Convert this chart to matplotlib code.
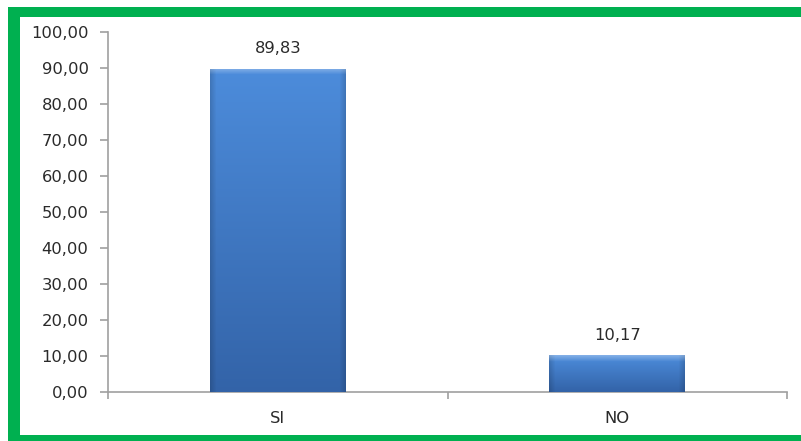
# Bar chart of SI / NO percentages with bevelled blue bars inside a green frame
import matplotlib.pyplot as plt
import matplotlib.patches as mpatches
import numpy as np

categories = ['SI', 'NO']
values = [89.83, 10.17]
value_labels = ['89,83', '10,17']
yticks = [0, 10, 20, 30, 40, 50, 60, 70, 80, 90, 100]

W, H = 801, 441
fig = plt.figure(figsize=(W / 100, H / 100), dpi=100)
fig.patch.set_facecolor('white')

# green frame (left, top and bottom strips)
green = '#00b050'
for x0, y0, w, h in [(8, 0, 12, 434), (8, 424, 793, 10), (8, 0, 793, 6)]:
    fig.patches.append(mpatches.Rectangle((x0 / W, y0 / H), w / W, h / H,
                                          transform=fig.transFigure,
                                          facecolor=green, edgecolor='none'))

ax = fig.add_axes([108 / W, (H - 392) / H, (787 - 108) / W, 360 / H])
ax.set_facecolor('none')

x = np.arange(len(categories))
bars = ax.bar(x, values, width=0.40, color='#3f78c4', edgecolor='none', zorder=2)

ax.set_xlim(-0.5, len(categories) - 0.5)
ax.set_ylim(0, 100)
ax.set_yticks(yticks)
ax.set_yticklabels([f'{v:.2f}'.replace('.', ',') for v in yticks])
ax.set_xticks(x)
ax.set_xticklabels(categories)
ax.set_xticks(np.arange(len(categories) + 1) - 0.5, minor=True)

for s in ['top', 'right']:
    ax.spines[s].set_visible(False)
for s in ['left', 'bottom']:
    ax.spines[s].set_color('#a0a0a0')
    ax.spines[s].set_linewidth(1.2)

txt = '#2a2a2a'
fs = 11.8
ax.tick_params(axis='y', direction='out', length=6, width=1.2, color='#a0a0a0',
               labelsize=fs, labelcolor=txt, pad=8)
ax.tick_params(axis='x', which='major', length=0, labelsize=fs, labelcolor=txt, pad=14)
ax.tick_params(axis='x', which='minor', direction='out', length=5, width=1.2, color='#a0a0a0')

# bevelled gradient fill for each bar
fig.canvas.draw()
top_c = np.array([0.30, 0.55, 0.86])
bot_c = np.array([0.20, 0.39, 0.66])
for b in bars:
    bb = b.get_window_extent()
    w, h = max(int(bb.width), 2), max(int(bb.height), 2)
    t = np.linspace(0, 1, h)[:, None, None]
    img = top_c * (1 - t) + bot_c * t
    img = np.repeat(img, w, axis=1)
    bev = 6
    xx = np.arange(w)[None, :]
    yy = np.arange(h)[:, None]
    edge_l = np.clip(1 - xx / bev, 0, 1)
    edge_r = np.clip(1 - (w - 1 - xx) / bev, 0, 1)
    edge_t = np.clip(1 - yy / bev, 0, 1)
    img = img * (1 - 0.15 * edge_l[..., None]) * (1 - 0.15 * edge_r[..., None])
    img = img + (1 - img) * 0.3 * edge_t[..., None]
    img = np.clip(img, 0, 1)
    im = ax.imshow(img, extent=(b.get_x(), b.get_x() + b.get_width(), 0, b.get_height()),
                   aspect='auto', zorder=3, interpolation='bilinear')
    im.set_clip_path(b)

for xi, v, lab in zip(x, values, value_labels):
    ax.annotate(lab, (xi, v), xytext=(0, 9), textcoords='offset points',
                ha='center', va='bottom', fontsize=fs, color=txt)

ax.set_xlim(-0.5, len(categories) - 0.5)
ax.set_ylim(0, 100)

fig.savefig('out.png', dpi=100)
